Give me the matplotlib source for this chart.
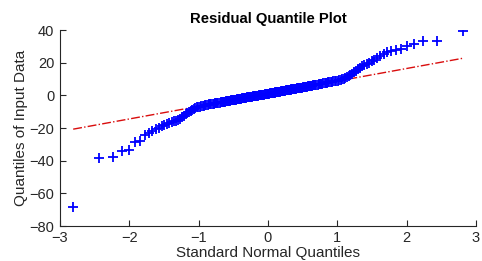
import matplotlib
matplotlib.use("Agg")
import matplotlib.pyplot as plt
from statistics import NormalDist

plt.rcParams['font.family'] = ['Liberation Sans', 'DejaVu Sans']

# sorted residuals (200 points)
residuals = [
    -68.5, -38.2, -37.8, -34.1, -33.7, -28.6, -27.8, -24.5, -22.8, -21.6,
    -20.8, -20.0, -19.0, -18.2, -17.5, -17.0, -16.6, -16.0, -15.5, -14.9,
    -14.2, -13.3, -12.4, -11.6, -10.8, -10.1, -9.5, -9.0, -8.6, -8.0,
    -7.4, -7.1, -6.9, -6.7, -6.5, -6.3, -6.1, -6.0, -5.8, -5.6,
    -5.5, -5.3, -5.2, -5.0, -4.9, -4.8, -4.7, -4.6, -4.4, -4.3,
    -4.2, -4.1, -4.0, -3.9, -3.7, -3.6, -3.5, -3.4, -3.3, -3.1,
    -3.0, -2.9, -2.8, -2.7, -2.6, -2.5, -2.4, -2.3, -2.1, -2.0,
    -1.9, -1.8, -1.7, -1.6, -1.5, -1.4, -1.3, -1.2, -1.1, -1.0,
    -0.9, -0.8, -0.7, -0.6, -0.5, -0.4, -0.3, -0.2, -0.1, 0.0,
    0.1, 0.2, 0.3, 0.4, 0.5, 0.5, 0.6, 0.7, 0.8, 0.9,
    1.0, 1.1, 1.2, 1.3, 1.4, 1.5, 1.6, 1.7, 1.8, 1.9,
    2.0, 2.1, 2.2, 2.3, 2.4, 2.5, 2.6, 2.7, 2.8, 2.9,
    3.0, 3.1, 3.2, 3.3, 3.4, 3.5, 3.6, 3.7, 3.8, 3.9,
    4.0, 4.1, 4.2, 4.3, 4.4, 4.5, 4.6, 4.8, 4.9, 5.0,
    5.1, 5.2, 5.3, 5.5, 5.6, 5.7, 5.8, 6.0, 6.1, 6.2,
    6.4, 6.5, 6.6, 6.8, 6.9, 7.0, 7.2, 7.3, 7.5, 7.6,
    7.8, 7.9, 8.1, 8.2, 8.4, 8.5, 8.7, 8.8, 9.0, 9.1,
    9.4, 9.8, 10.2, 10.7, 11.3, 11.9, 12.6, 13.3, 14.2, 15.2,
    16.2, 17.0, 17.8, 18.6, 19.3, 20.0, 20.8, 21.8, 23.0, 24.3,
    25.6, 26.6, 27.3, 27.9, 28.5, 30.0, 31.5, 33.0, 33.3, 39.7,
]

# reference line end points (dash-dot)
line_x = [-2.81, 2.81]
line_y = [-20.7, 22.7]

xticks = [-3, -2, -1, 0, 1, 2, 3]
yticks = [-80, -60, -40, -20, 0, 20, 40]

# standard normal quantiles, (i - 0.5) / n like qqplot
n = len(residuals)
nd = NormalDist()
theo = [nd.inv_cdf((i - 0.5) / n) for i in range(1, n + 1)]

fig = plt.figure(figsize=(4.82, 2.61), dpi=100)
ax = fig.add_axes([0.1245, 0.134, 0.863, 0.751])

ax.plot(line_x, line_y, linestyle='-.', color=(0.85, 0.05, 0.05), linewidth=1.0, zorder=1)
ax.plot(theo, residuals, linestyle='none', marker='+', color=(0, 0, 1),
        markersize=7.5, markeredgewidth=1.3, zorder=2)

ax.set_xlim(-3, 3)
ax.set_ylim(-80, 40)
ax.set_xticks(xticks)
ax.set_yticks(yticks)

for s in ['top', 'right']:
    ax.spines[s].set_visible(False)
for s in ['left', 'bottom']:
    ax.spines[s].set_color('#262626')
    ax.spines[s].set_linewidth(0.8)
ax.tick_params(direction='in', length=4, width=0.8, colors='#262626',
               labelsize=10.5)
ax.tick_params(axis='x', pad=3.5)
ax.tick_params(axis='y', pad=4)

ax.set_title('Residual Quantile Plot', fontsize=10.7, fontweight='bold', pad=5)
ax.set_xlabel('Standard Normal Quantiles', fontsize=11, color='#262626', labelpad=1)
ax.set_ylabel('Quantiles of Input Data', fontsize=11, color='#262626', labelpad=1)

fig.savefig('out.png', dpi=100)
